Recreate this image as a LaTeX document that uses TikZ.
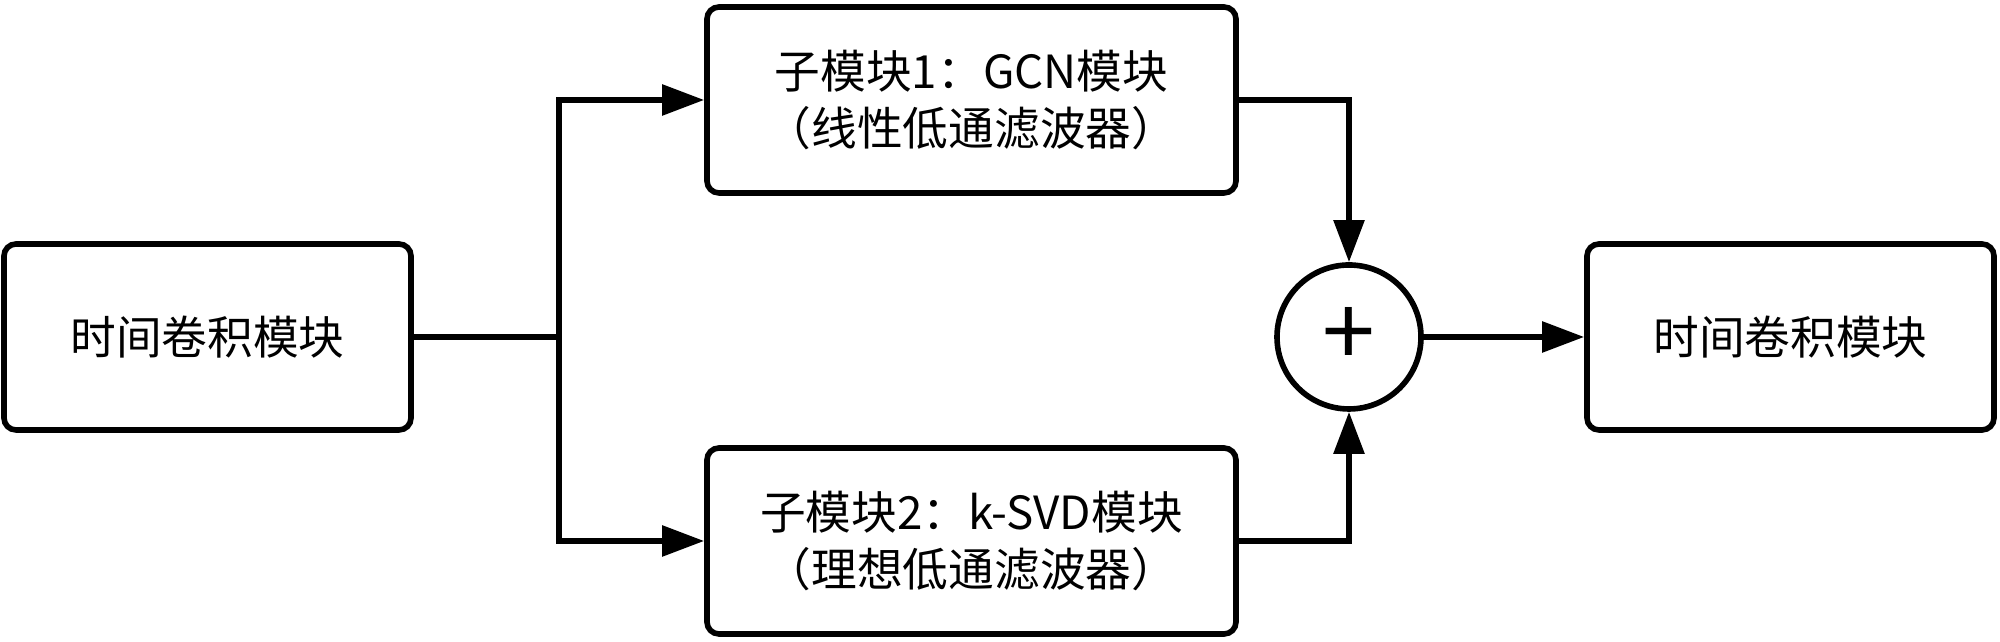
\documentclass[tikz,border=0pt]{standalone}
\usepackage{fontspec}
\setmainfont{Noto Sans CJK SC}
\usetikzlibrary{arrows.meta}

\begin{document}
\begin{tikzpicture}[
    line width=1.6pt,
    font=\fontsize{13}{16.4}\selectfont,
    block/.style={draw,rounded corners=1.2mm,align=center,inner sep=0pt,
      minimum height=18.6mm},
    sumnode/.style={draw,circle,minimum size=14.4mm,inner sep=0pt},
    arr/.style={-{Triangle[length=4.2mm,width=3mm]}}
  ]
  \useasboundingbox (0,0) rectangle (20,6.42);
  % Blocks
  \node[block,minimum width=40.7mm] (tcnin) at (2.075,3.05) {时间卷积模块};
  \node[block,minimum width=52.9mm] (gcn) at (9.715,5.42)
    {子模块1：GCN模块\\（线性低通滤波器）};
  \node[block,minimum width=52.9mm] (ksvd) at (9.715,1.01)
    {子模块2：k-SVD模块\\（理想低通滤波器）};
  \node[sumnode,font=\fontsize{27}{27}\selectfont] (sum) at (13.49,3.05) {+};
  \node[block,minimum width=40.7mm] (tcnout) at (17.905,3.05) {时间卷积模块};
  % Split
  \coordinate (split) at (5.59,3.05);
  \draw (tcnin.east) -- (split);
  \draw[arr] (split) |- (gcn.west);
  \draw[arr] (split) |- (ksvd.west);
  % Merge
  \draw[arr] (gcn.east) -| (sum.north);
  \draw[arr] (ksvd.east) -| (sum.south);
  \draw[arr] (sum.east) -- (tcnout.west);
\end{tikzpicture}
\end{document}
